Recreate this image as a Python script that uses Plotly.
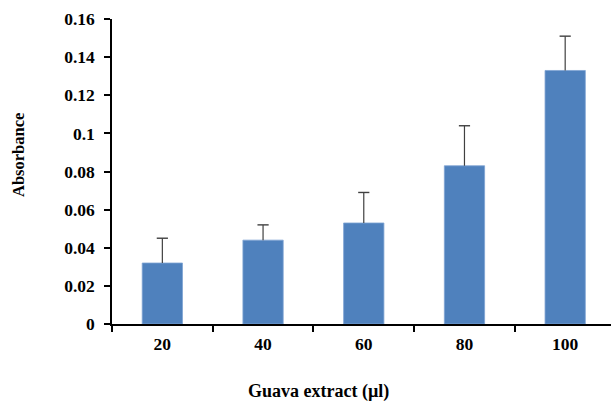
import plotly.graph_objects as go

# Guava extract volumes (µl) and measured absorbance
categories = ["20", "40", "60", "80", "100"]
absorbance = [0.032, 0.044, 0.053, 0.083, 0.133]
std_error = [0.013, 0.008, 0.016, 0.021, 0.018]

y_tick_vals = [0, 0.02, 0.04, 0.06, 0.08, 0.10, 0.12, 0.14, 0.16]
y_tick_text = ["0", "0.02", "0.04", "0.06", "0.08", "0.1", "0.12", "0.14", "0.16"]

font_family = "Liberation Serif, Times New Roman, serif"
err_color = "#404040"

fig = go.Figure()

# Bars with upward-only error whiskers (caps added separately so none sit on the bar top)
fig.add_trace(
    go.Bar(
        x=categories,
        y=absorbance,
        width=0.4,
        marker=dict(color="#4F81BD", line=dict(color="#7FA3D3", width=0.8)),
        error_y=dict(
            type="data",
            array=std_error,
            symmetric=False,
            arrayminus=[0] * len(std_error),
            color=err_color,
            thickness=1.2,
            width=0,
        ),
    )
)

# Caps at the top end of each whisker
fig.add_trace(
    go.Scatter(
        x=categories,
        y=[a + e for a, e in zip(absorbance, std_error)],
        mode="markers",
        marker=dict(symbol="line-ew", size=8, line=dict(color=err_color, width=1.4)),
        hoverinfo="skip",
    )
)

fig.update_layout(
    width=611,
    height=401,
    margin=dict(l=112, r=0, t=19, b=77),
    plot_bgcolor="white",
    paper_bgcolor="white",
    showlegend=False,
    font=dict(family=font_family, color="black"),
    xaxis=dict(
        type="category",
        range=[-0.5, 4.455],
        showline=True,
        linecolor="black",
        linewidth=1.5,
        ticks="outside",
        tickson="boundaries",
        ticklen=6,
        tickwidth=1.5,
        tickcolor="black",
        showgrid=False,
        tickfont=dict(size=17.5, family=font_family),
        ticklabelstandoff=3,
        tickprefix="<b>",
        ticksuffix="</b>",
    ),
    yaxis=dict(
        range=[0, 0.16],
        tickvals=y_tick_vals,
        ticktext=["<b>" + t + "</b>" for t in y_tick_text],
        showline=True,
        linecolor="black",
        linewidth=1.5,
        ticks="outside",
        ticklen=6,
        tickwidth=1.5,
        tickcolor="black",
        showgrid=False,
        zeroline=False,
        tickfont=dict(size=17.5, family=font_family),
        ticklabelstandoff=6,
    ),
    annotations=[
        dict(
            text="<b>Absorbance</b>",
            xref="paper", yref="paper",
            x=(18 - 112) / 499, y=(324 - 155) / 305,
            xanchor="center", yanchor="middle",
            textangle=-90, showarrow=False,
            font=dict(size=16.5, family=font_family, color="black"),
        ),
        dict(
            text="<b>Guava extract (µl)</b>",
            xref="paper", yref="paper",
            x=(318 - 112) / 499, y=-(392 - 324) / 305,
            xanchor="center", yanchor="middle",
            showarrow=False,
            font=dict(size=18, family=font_family, color="black"),
        ),
    ],
)

fig.write_html("out.html")
